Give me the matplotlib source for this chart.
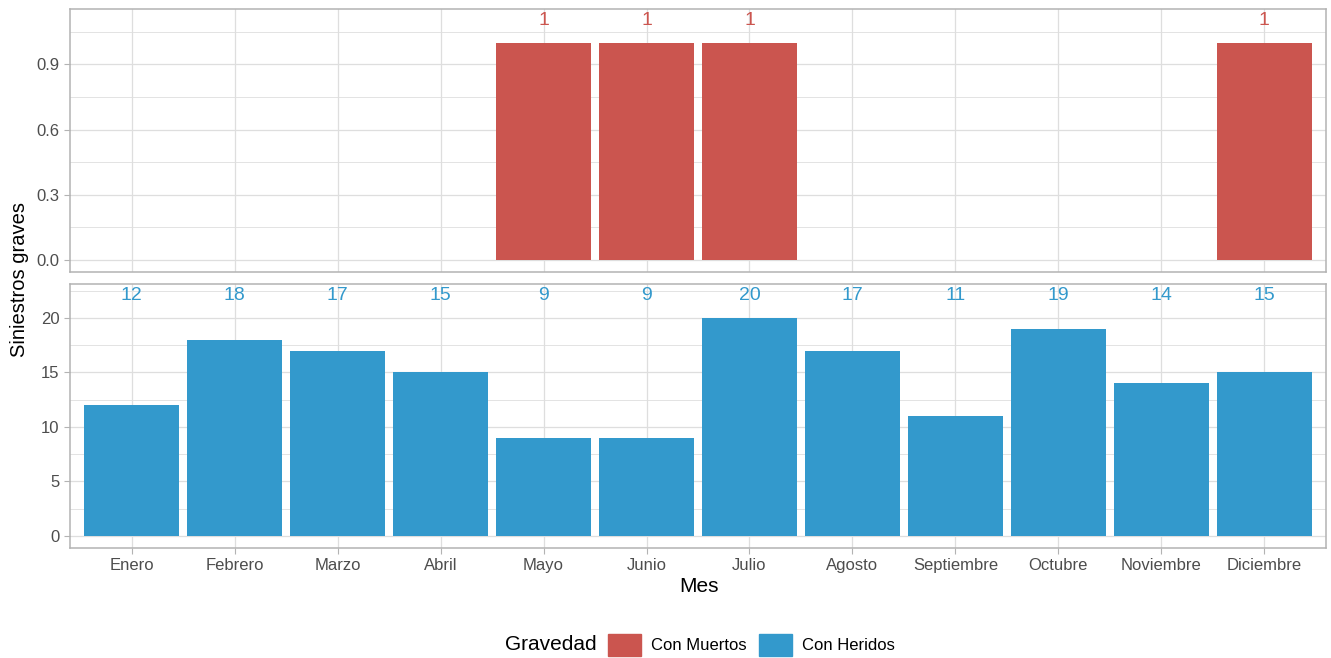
import numpy as np
import matplotlib.pyplot as plt

plt.rcParams['font.family'] = ['Liberation Sans', 'DejaVu Sans']

meses = ["Enero", "Febrero", "Marzo", "Abril", "Mayo", "Junio", "Julio",
         "Agosto", "Septiembre", "Octubre", "Noviembre", "Diciembre"]
muertos = [0, 0, 0, 0, 1, 1, 1, 0, 0, 0, 0, 1]
heridos = [12, 18, 17, 15, 9, 9, 20, 17, 11, 19, 14, 15]

rojo = "#CB554F"
azul = "#3399CC"
grid_col = "#DEDEDE"
border_col = "#B3B3B3"
tick_col = "#4D4D4D"

fig = plt.figure(figsize=(13.31, 6.58), dpi=100)
ax1 = fig.add_axes([70/1331, 1 - 272/658, 1256/1331, 263/658])
ax2 = fig.add_axes([70/1331, 1 - 548/658, 1256/1331, 264/658])

x = np.arange(len(meses))

def panel(ax, vals, color, major, minor, fmt, show_x):
    vals = np.array(vals)
    top = vals.max() * 1.1
    ax.set_ylim(-0.05 * top, top * 1.05)
    ax.set_xlim(-0.6, len(vals) - 0.4)
    ax.set_yticks(major)
    ax.set_yticks(minor, minor=True)
    ax.set_yticklabels([fmt.format(v) for v in major])
    ax.set_xticks(x)
    ax.grid(True, which="major", color=grid_col, lw=0.9)
    ax.grid(True, which="minor", axis="y", color=grid_col, lw=0.6)
    ax.set_axisbelow(True)
    for i, v in enumerate(vals):
        if v > 0:
            ax.bar(i, v, width=0.92, color=color, zorder=2)
            ax.text(i, top, str(v), color=color, ha="center", va="center", fontsize=14)
    for s in ax.spines.values():
        s.set_color(border_col)
        s.set_linewidth(1.1)
    ax.tick_params(axis="both", which="major", colors=border_col, labelcolor=tick_col,
                   labelsize=12, length=4)
    ax.tick_params(axis="y", which="minor", length=0)
    if show_x:
        ax.set_xticklabels(meses)
    else:
        ax.tick_params(axis="x", length=0, labelbottom=False)

panel(ax1, muertos, rojo, [0, 0.3, 0.6, 0.9], [0.15, 0.45, 0.75, 1.05], "{:.1f}", False)
panel(ax2, heridos, azul, [0, 5, 10, 15, 20], [2.5, 7.5, 12.5, 17.5, 22.5], "{:d}", True)

fig.text(20/1331, 1 - 280/658, "Siniestros graves", rotation=90, ha="center", va="center", fontsize=14.5)
fig.text(699/1331, 1 - 587/658, "Mes", ha="center", va="center", fontsize=15)

fig.text(551/1331, 1 - 645/658, "Gravedad", ha="center", va="center", fontsize=15)
handles = [plt.Rectangle((0, 0), 1, 1, color=rojo), plt.Rectangle((0, 0), 1, 1, color=azul)]
fig.legend(handles, ["Con Muertos", "Con Heridos"], loc="center left",
           bbox_to_anchor=(593/1331, 1 - 645/658), ncol=2, frameon=False, fontsize=12,
           handlelength=2.0, handleheight=1.7, handletextpad=0.6, columnspacing=0.7)

fig.savefig("out.png", dpi=100)
